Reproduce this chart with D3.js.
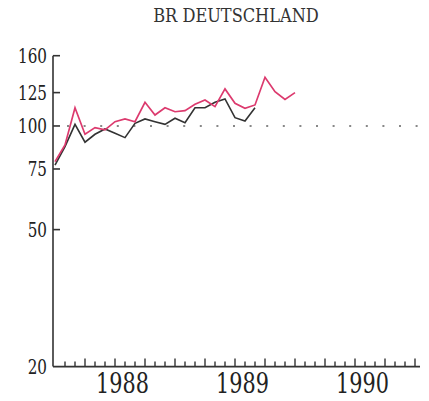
<!DOCTYPE html>
<html>
<head>
<meta charset="utf-8">
<script src="https://cdn.jsdelivr.net/npm/d3@7"></script>
<style>
  body { margin: 0; background: #fff; }
  text { font-family: "DejaVu Serif", serif; fill: #222; }
</style>
</head>
<body>
<svg width="429" height="401"></svg>
<script>
// monthly index values, first point = Dec 1987 (month -1 relative to Jan 1988)
var redValues = [78.8, 88.1, 113.0, 94.6, 98.9, 97.4, 102.9, 104.8, 102.9, 117.2, 107.6, 113.0,
                 110.0, 110.8, 115.6, 119.0, 113.8, 128.1, 116.4, 112.6, 115.1, 138.5, 125.8, 119.5, 125.0];
var blackValues = [77.0, 87.1, 101.1, 89.7, 94.6, 98.0, 95.2, 92.5, 101.8, 104.8, 102.9, 101.1,
                   105.3, 102.2, 113.0, 113.0, 117.2, 119.8, 105.7, 103.4, 113.0];
var yTicks = [160, 125, 100, 75, 50, 20];
var years = ["1988", "1989", "1990"];
var startMonth = -1;
var title = "BR DEUTSCHLAND";

var svg = d3.select("svg");

// month index 0 = Jan 1988
var x = d3.scaleLinear().domain([-1, 35]).range([55, 415]);
var y = d3.scaleLog().domain([20, 160]).range([366.6, 55.7]);

var axisX0 = 53, axisY0 = y(20);

// title
svg.append("text")
    .attr("transform", "translate(236,22) scale(0.9,1)")
    .attr("text-anchor", "middle")
    .style("font-size", "18px")
    .style("fill", "#333")
    .text(title);

// y axis
svg.append("line")
    .attr("x1", axisX0).attr("x2", axisX0)
    .attr("y1", y(160)).attr("y2", axisY0)
    .attr("stroke", "#333").attr("stroke-width", 1.6);

svg.selectAll("ytick")
    .data(yTicks.filter(function(d){ return d != 20 }))
    .enter()
    .append("line")
      .attr("x1", axisX0).attr("x2", axisX0 + 7)
      .attr("y1", function(d){ return y(d) })
      .attr("y2", function(d){ return y(d) })
      .attr("stroke", "#333").attr("stroke-width", 1.6);

svg.selectAll("ylabel")
    .data(yTicks)
    .enter()
    .append("text")
      .attr("transform", function(d){ return "translate(47," + (y(d) + 7) + ") scale(0.76,1)" })
      .attr("text-anchor", "end")
      .style("font-size", "20px")
      .text(function(d){ return d });

// x axis
svg.append("line")
    .attr("x1", axisX0).attr("x2", 420)
    .attr("y1", axisY0).attr("y2", axisY0)
    .attr("stroke", "#333").attr("stroke-width", 1.6);

svg.selectAll("xtick")
    .data(d3.range(0, 36))
    .enter()
    .append("line")
      .attr("x1", function(d){ return x(d) })
      .attr("x2", function(d){ return x(d) })
      .attr("y1", axisY0)
      .attr("y2", function(d){ return axisY0 - (d % 3 == 2 ? 8 : 5) })
      .attr("stroke", "#333").attr("stroke-width", 1.4);

svg.selectAll("xlabel")
    .data(years)
    .enter()
    .append("text")
      .attr("transform", function(d, i){ return "translate(" + x(5.75 + 12 * i) + ",393) scale(0.77,1)" })
      .attr("text-anchor", "middle")
      .style("font-size", "27px")
      .text(function(d){ return d });

// dotted reference at 100
svg.append("line")
    .attr("x1", 67).attr("x2", 418)
    .attr("y1", y(100)).attr("y2", y(100))
    .attr("stroke", "#888").attr("stroke-width", 2)
    .attr("stroke-dasharray", "2,14.6");

// series lines
var line = d3.line()
    .x(function(d, i){ return x(startMonth + i) })
    .y(function(d){ return y(d) });

svg.append("path")
    .datum(blackValues)
    .attr("fill", "none")
    .attr("stroke", "#333")
    .attr("stroke-width", 1.6)
    .attr("d", line);

svg.append("path")
    .datum(redValues)
    .attr("fill", "none")
    .attr("stroke", "#dc3a6e")
    .attr("stroke-width", 1.7)
    .attr("d", line);
</script>
</body>
</html>
